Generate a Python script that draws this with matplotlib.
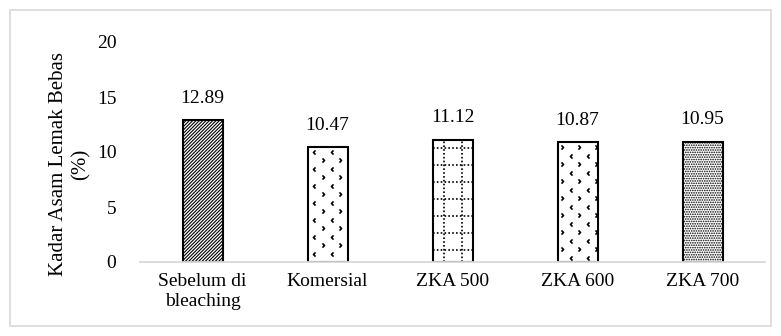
import matplotlib
matplotlib.use("Agg")
import matplotlib.pyplot as plt
import numpy as np
from matplotlib.patches import Rectangle
from matplotlib.path import Path

plt.rcParams['font.family'] = ['Liberation Serif', 'DejaVu Serif']
plt.rcParams['hatch.linewidth'] = 0.8

categories = ["Sebelum di\nbleaching", "Komersial", "ZKA 500", "ZKA 600", "ZKA 700"]
values = [12.89, 10.47, 11.12, 10.87, 10.95]
hatches = ["//////////", "", "", "", "......."]
fills = [None, "chevron", "dotgrid", "chevron2", None]

# open chevron markers
left_chev = Path([(0.5, 1), (-0.5, 0), (0.5, -1)], [Path.MOVETO, Path.LINETO, Path.LINETO])
right_chev = Path([(-0.5, 1), (0.5, 0), (-0.5, -1)], [Path.MOVETO, Path.LINETO, Path.LINETO])

fig = plt.figure(figsize=(7.81, 3.36), dpi=100)
ax = fig.add_axes([140/781, 74/336, 625/781, 220/336])
ax.set_xlim(-0.5, len(categories) - 0.5)
ax.set_ylim(0, 20)

x = list(range(len(categories)))
bars = ax.bar(x, values, width=0.32, color="white", edgecolor="black",
              linewidth=1.5, hatch=hatches, zorder=3)

# pixel -> data scale for the pattern fills
px_x = 1.0 / (ax.bbox.width / 5.0)
px_y = 20.0 / ax.bbox.height

for b, kind in zip(bars, fills):
    if kind is None:
        continue
    x0, w, h = b.get_x(), b.get_width(), b.get_height()
    if kind == "dotgrid":
        for ox in (11, 29):
            l, = ax.plot([x0 + ox*px_x]*2, [0, h], color="black", lw=1.2,
                         ls=(0, (1, 1.3)), zorder=4)
            l.set_clip_path(b)
        for yy in np.arange(h - 8*px_y, 0, -17*px_y):
            l, = ax.plot([x0, x0 + w], [yy, yy], color="black", lw=1.2,
                         ls=(0, (1, 1.3)), zorder=4)
            l.set_clip_path(b)
    else:
        if kind == "chevron":
            cols = [(6, left_chev, 0), (15.5, right_chev, -8.5),
                    (24, left_chev, 0), (32.5, right_chev, -8.5)]
        else:
            cols = [(4, right_chev, 0), (13, left_chev, -8.5), (21.5, right_chev, 0),
                    (30, left_chev, -8.5), (38, right_chev, 0)]
        for ox, mk, oy in cols:
            ys = np.arange(h - (5 - oy)*px_y, 0, -17*px_y)
            ys = ys[ys < h - 2*px_y]
            l, = ax.plot([x0 + ox*px_x]*len(ys), ys, ls="none", marker=mk,
                         ms=3, mfc="none", mec="black", mew=1.2, zorder=4)
            l.set_clip_path(b)

for b, v in zip(bars, values):
    ax.text(b.get_x() + b.get_width()/2, v + 1.2, f"{v:.2f}",
            ha="center", va="bottom", fontsize=14)

ax.set_yticks([0, 5, 10, 15, 20])
ax.set_xticks(x)
ax.set_xticklabels(categories, fontsize=14, linespacing=1.25)
ax.tick_params(axis="both", length=0, labelsize=14)
ax.tick_params(axis="x", pad=8)
ax.tick_params(axis="y", pad=17)
for s in ["top", "right", "left"]:
    ax.spines[s].set_visible(False)
ax.spines["bottom"].set_color("#d9d9d9")
ax.spines["bottom"].set_linewidth(1.3)
ax.spines["bottom"].set_zorder(5)

fig.text(70/781, 1 - 164/336, "Kadar Asam Lemak Bebas\n(%)", rotation=90,
         ha="center", va="center", fontsize=15, linespacing=1.2)

# outer frame around the whole chart
fig.patches.append(Rectangle((10/781, 10/336), 761/781, 316/336,
                             transform=fig.transFigure, fill=False,
                             edgecolor="#d9d9d9", linewidth=1.2))

fig.savefig("out.png", dpi=100)
